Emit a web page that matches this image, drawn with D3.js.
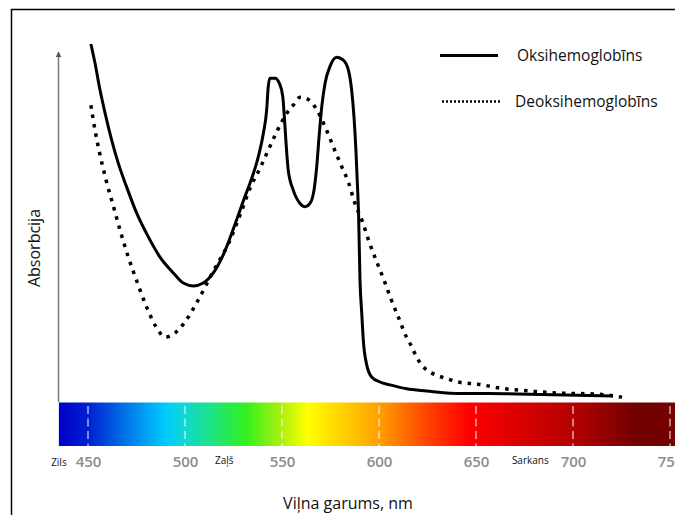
<!DOCTYPE html>
<html>
<head>
<meta charset="utf-8">
<script src="https://cdn.jsdelivr.net/npm/d3@7"></script>
<style>
  body { margin: 0; background: #fff; }
  svg { display: block; font-family: "Open Sans", sans-serif; }
</style>
</head>
<body>
<div id="chart"></div>
<script>
// Oksihemoglobins (solid) - wavelength nm / relative absorbance
var oxyNm  = [451.5, 453.6, 456.2, 458.8, 462.2, 465.6, 469.9, 475.1, 481.1, 487.1, 494.0, 499.1, 504.3, 509.4, 514.6, 519.7, 523.2,
              527.5, 530.9, 534.4, 537.8, 540.4, 542.1, 542.9, 543.8, 546.4, 548.6, 550.4, 551.2, 552.1, 553.2, 555.8, 559.3, 561.9,
              564.4, 566.5, 567.9, 569.1, 570.5, 572.2, 574.7, 578.2, 581.6, 584.2, 585.9, 587.1, 588.1, 589.0, 589.5, 590.2, 591.1,
              591.9, 593.7, 596.2, 600.5, 605.7, 614.3, 624.6, 636.6, 671.1, 720.6];
var oxyAbs = [0.989, 0.936, 0.861, 0.797, 0.722, 0.658, 0.592, 0.519, 0.453, 0.397, 0.353, 0.325, 0.317, 0.325, 0.353, 0.403, 0.450,
              0.514, 0.565, 0.616, 0.676, 0.741, 0.806, 0.870, 0.894, 0.894, 0.880, 0.843, 0.787, 0.713, 0.639, 0.583, 0.546, 0.537,
              0.546, 0.583, 0.648, 0.731, 0.815, 0.880, 0.926, 0.952, 0.944, 0.917, 0.861, 0.787, 0.694, 0.583, 0.509, 0.333, 0.242,
              0.167, 0.097, 0.064, 0.050, 0.042, 0.031, 0.025, 0.019, 0.017, 0.011];

// Deoksihemoglobins (dotted)
var deoxyNm  = [451.5, 453.6, 456.2, 459.3, 462.9, 466.5, 470.6, 475.3, 480.4, 485.1, 489.7, 494.8, 500.0, 506.2, 514.4, 523.2,
                528.4, 533.5, 538.7, 542.9, 547.3, 552.4, 555.8, 559.3, 564.1, 567.5, 572.2, 576.4, 580.4, 584.4, 587.6, 591.6,
                595.0, 598.8, 602.6, 606.2, 610.2, 614.3, 616.9, 619.1, 622.0, 625.8, 629.7, 635.7, 640.7, 651.0, 662.4, 677.8,
                693.3, 710.3, 725.3];
var deoxyAbs = [0.819, 0.750, 0.681, 0.611, 0.542, 0.472, 0.400, 0.328, 0.256, 0.203, 0.175, 0.186, 0.217, 0.272, 0.356, 0.444,
                0.514, 0.588, 0.644, 0.694, 0.745, 0.796, 0.819, 0.841, 0.833, 0.810, 0.759, 0.704, 0.653, 0.602, 0.546, 0.493,
                0.438, 0.384, 0.333, 0.280, 0.227, 0.173, 0.148, 0.122, 0.097, 0.079, 0.069, 0.058, 0.050, 0.044, 0.033, 0.025,
                0.019, 0.017, 0.008];

var tickNm = [450, 500, 550, 600, 650, 700, 750];
var colorNames = ["Zils", "Zaļš", "Sarkans"];
var colorNameNm = [431, 515.5, 668.5];

// spectrum colours along the bar
var spectrumNm  = [435, 450, 490, 500, 531, 549, 563, 600, 626, 646, 700, 734, 760];
var spectrumCol = ["#0000c8", "#0020d0", "#00ccff", "#10d8d0", "#30f020", "#a8f010", "#ffff00", "#ffa000", "#ff4000", "#ff0000", "#b40000", "#700000", "#780000"];

var width = 675, height = 515;
var svg = d3.select("#chart").append("svg")
  .attr("width", width)
  .attr("height", height);

var x = d3.scaleLinear().domain([450, 750]).range([88, 670]);
var y = d3.scaleLinear().domain([0, 1]).range([400, 40]);

// frame (only top and left edges fall inside the picture)
var frame = svg.append("path")
  .attr("d", "M11.5," + height + "V9.5H" + width)
  .attr("fill", "none")
  .attr("stroke", "#000")
  .attr("stroke-width", 1.5);

// spectrum bar
var grad = svg.append("defs").append("linearGradient")
  .attr("id", "spec")
  .attr("gradientUnits", "userSpaceOnUse")
  .attr("x1", x(435)).attr("x2", x(760))
  .attr("y1", 0).attr("y2", 0);
grad.selectAll("stop")
  .data(spectrumNm)
  .enter().append("stop")
  .attr("offset", function (d) { return (d - 435) / (760 - 435); })
  .attr("stop-color", function (d, i) { return spectrumCol[i]; });

svg.append("rect")
  .attr("x", x(435)).attr("y", 402.5)
  .attr("width", x(760) - x(435)).attr("height", 43.5)
  .attr("fill", "url(#spec)");

svg.selectAll(".tickline")
  .data(tickNm)
  .enter().append("line")
  .attr("class", "tickline")
  .attr("x1", function (d) { return x(d); })
  .attr("x2", function (d) { return x(d); })
  .attr("y1", 406).attr("y2", 446)
  .attr("stroke", "#fff")
  .attr("stroke-opacity", 0.75)
  .attr("stroke-width", 1.3)
  .attr("stroke-dasharray", "8,4.5");

// x axis (labels only)
var xAxis = d3.axisBottom(x).tickValues(tickNm).tickSize(0).tickPadding(0);
var gx = svg.append("g")
  .attr("transform", "translate(0,456)")
  .call(xAxis);
gx.select(".domain").remove();
gx.selectAll("text")
  .attr("fill", "#8c8c8c")
  .style("font-family", "Open Sans, sans-serif")
  .style("font-size", "15px")
  .style("font-weight", "600");

svg.selectAll(".cname")
  .data(colorNames)
  .enter().append("text")
  .attr("class", "cname")
  .attr("x", function (d, i) { return x(colorNameNm[i]); })
  .attr("y", function (d, i) { return i === 0 ? 465.5 : 464; })
  .attr("font-size", "10px")
  .attr("fill", "#111")
  .text(function (d) { return d; });

// y axis arrow
svg.append("defs").append("marker")
  .attr("id", "arrow")
  .attr("viewBox", "0 0 10 10")
  .attr("refX", 9).attr("refY", 5)
  .attr("markerWidth", 4).attr("markerHeight", 4)
  .attr("orient", "auto")
  .append("path")
  .attr("d", "M0,0L10,5L0,10z")
  .attr("fill", "#555");

svg.append("line")
  .attr("x1", 58.5).attr("x2", 58.5)
  .attr("y1", 402).attr("y2", 52)
  .attr("stroke", "#7a7a7a")
  .attr("stroke-width", 1.5)
  .attr("marker-end", "url(#arrow)");

// axis titles
svg.append("text")
  .attr("transform", "translate(40,248) rotate(-90)")
  .attr("text-anchor", "middle")
  .attr("font-size", "16px")
  .attr("fill", "#111")
  .text("Absorbcija");

svg.append("text")
  .attr("x", 348).attr("y", 509)
  .attr("text-anchor", "middle")
  .attr("font-size", "16px")
  .attr("fill", "#111")
  .text("Viļna garums, nm");

// curves
var line = d3.line()
  .x(function (d) { return x(d[0]); })
  .y(function (d) { return y(d[1]); })
  .curve(d3.curveMonotoneX);

var oxy = d3.zip(oxyNm, oxyAbs);
var deoxy = d3.zip(deoxyNm, deoxyAbs);

svg.append("path")
  .datum(deoxy)
  .attr("d", line)
  .attr("fill", "none")
  .attr("stroke", "#000")
  .attr("stroke-width", 3.5)
  .attr("stroke-dasharray", "3.5,6");

svg.append("path")
  .datum(oxy)
  .attr("d", line)
  .attr("fill", "none")
  .attr("stroke", "#000")
  .attr("stroke-width", 3);

// legend
var legend = svg.append("g");
legend.append("line")
  .attr("x1", 440).attr("x2", 498)
  .attr("y1", 55.5).attr("y2", 55.5)
  .attr("stroke", "#000").attr("stroke-width", 3);
legend.append("line")
  .attr("x1", 442).attr("x2", 500)
  .attr("y1", 101.5).attr("y2", 101.5)
  .attr("stroke", "#000").attr("stroke-width", 2.5)
  .attr("stroke-dasharray", "2,2");
legend.append("text")
  .attr("x", 517).attr("y", 61)
  .attr("font-size", "15.5px")
  .attr("fill", "#111")
  .text("Oksihemoglobīns");
legend.append("text")
  .attr("x", 515).attr("y", 107)
  .attr("font-size", "15.5px")
  .attr("fill", "#111")
  .text("Deoksihemoglobīns");
</script>
</body>
</html>
